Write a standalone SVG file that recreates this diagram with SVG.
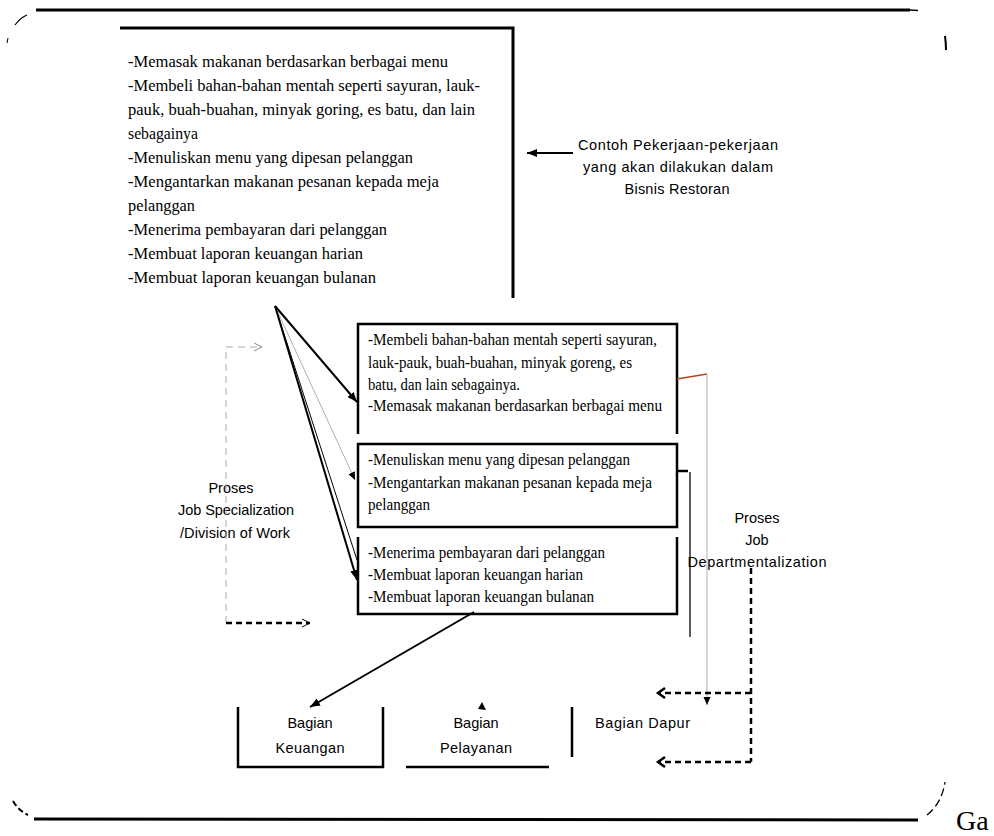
<svg xmlns="http://www.w3.org/2000/svg" width="994" height="836" viewBox="0 0 994 836">
  <style>
    .serif { font-family: "Liberation Serif", "Times New Roman", serif; font-size: 16.5px; fill: #000; }
    .serif-s { font-family: "Liberation Serif", "Times New Roman", serif; font-size: 16px; fill: #000; }
    .sans { font-family: "Liberation Sans", Arial, sans-serif; font-size: 14.5px; fill: #000; }
    .frame { fill: none; stroke: #000; stroke-width: 3; }
    .box { fill: none; stroke: #000; stroke-width: 2.5; }
    .thick { fill: none; stroke: #000; stroke-width: 2; }
    .thin { fill: none; stroke: #000; stroke-width: 1; }
    .hair { fill: none; stroke: #9a9a9a; stroke-width: 0.8; }
    .dash-black { fill: none; stroke: #000; stroke-width: 2.5; stroke-dasharray: 6 4; }
    .dash-gray { fill: none; stroke: #aaa; stroke-width: 1; stroke-dasharray: 7 5; }
  </style>
  <defs>
    <marker id="tri" markerUnits="userSpaceOnUse" markerWidth="12" markerHeight="10" refX="10" refY="4" orient="auto-start-reverse">
      <path d="M0,0 L10,4 L0,8 z" fill="#000"/>
    </marker>
    <marker id="triSmall" markerUnits="userSpaceOnUse" markerWidth="10" markerHeight="8" refX="8" refY="3.5" orient="auto">
      <path d="M0,0 L8,3.5 L0,7 z" fill="#000"/>
    </marker>
    <marker id="chevBold" markerUnits="userSpaceOnUse" markerWidth="12" markerHeight="14" refX="9" refY="6" orient="auto">
      <path d="M2,1 L9,6 L2,11" fill="none" stroke="#000" stroke-width="2.5"/>
    </marker>
    <marker id="chevThin" markerUnits="userSpaceOnUse" markerWidth="12" markerHeight="12" refX="9" refY="5" orient="auto">
      <path d="M1,1 L9,5 L1,9" fill="none" stroke="#000" stroke-width="1"/>
    </marker>
    <marker id="chevGray" markerUnits="userSpaceOnUse" markerWidth="12" markerHeight="12" refX="9" refY="5" orient="auto">
      <path d="M1,1 L9,5 L1,9" fill="none" stroke="#888" stroke-width="1"/>
    </marker>
  </defs>

  <rect width="994" height="836" fill="#fff"/>

  <!-- outer rounded frame, only partially drawn at the corners -->
  <g id="frame">
    <line class="frame" x1="36" y1="10" x2="910" y2="10"/>
    <path d="M910,10 L918,10.5" stroke="#000" stroke-width="1.5"/>
    <path d="M15,25 Q20,18 27,15" fill="none" stroke="#000" stroke-width="1.2"/>
    <path d="M8,38 L7,43" fill="none" stroke="#000" stroke-width="1"/>
    <path d="M945,36 Q946,43 946,50" fill="none" stroke="#000" stroke-width="2"/>
    <line class="frame" x1="34" y1="819" x2="918" y2="820"/>
    <path d="M13,801 Q18,810 28,815" fill="none" stroke="#000" stroke-width="2" stroke-dasharray="6 3"/>
    <path d="M927,815 Q942,803 945,782" fill="none" stroke="#000" stroke-width="1.3" stroke-dasharray="8 4"/>
    <text x="956" y="830" font-family="'Liberation Serif', 'Times New Roman', serif" font-size="28">Ga</text>
  </g>

  <!-- list of all restaurant jobs -->
  <g id="jobs-list">
    <path class="frame" d="M120,28 H513 V298"/>
    <g class="serif" lengthAdjust="spacingAndGlyphs">
      <text x="128" y="67" textLength="320" lengthAdjust="spacingAndGlyphs">-Memasak makanan berdasarkan berbagai menu</text>
      <text x="128" y="91" textLength="352" lengthAdjust="spacingAndGlyphs">-Membeli bahan-bahan mentah seperti sayuran, lauk-</text>
      <text x="128" y="115" textLength="347" lengthAdjust="spacingAndGlyphs">pauk, buah-buahan, minyak goring, es batu, dan lain</text>
      <text x="128" y="139" textLength="70" lengthAdjust="spacingAndGlyphs">sebagainya</text>
      <text x="128" y="163" textLength="285" lengthAdjust="spacingAndGlyphs">-Menuliskan menu yang dipesan pelanggan</text>
      <text x="128" y="187" textLength="311" lengthAdjust="spacingAndGlyphs">-Mengantarkan makanan pesanan kepada meja</text>
      <text x="128" y="211" textLength="67" lengthAdjust="spacingAndGlyphs">pelanggan</text>
      <text x="128" y="235" textLength="259" lengthAdjust="spacingAndGlyphs">-Menerima pembayaran dari pelanggan</text>
      <text x="128" y="259" textLength="235" lengthAdjust="spacingAndGlyphs">-Membuat laporan keuangan harian</text>
      <text x="128" y="283" textLength="248" lengthAdjust="spacingAndGlyphs">-Membuat laporan keuangan bulanan</text>
    </g>
  </g>

  <!-- caption for the list -->
  <g id="caption">
    <text class="sans" x="678" y="150" text-anchor="middle" textLength="200">Contoh Pekerjaan-pekerjaan</text>
    <text class="sans" x="678" y="172" text-anchor="middle" textLength="190">yang akan dilakukan dalam</text>
    <text class="sans" x="677" y="194" text-anchor="middle" textLength="105">Bisnis Restoran</text>
  </g>

  <!-- kitchen tasks -->
  <g id="box-kitchen">
    <path class="box" d="M358,434 V324 H677 V434"/>
    <g class="serif-s">
      <text x="368" y="345" textLength="289" lengthAdjust="spacingAndGlyphs">-Membeli bahan-bahan mentah seperti sayuran,</text>
      <text x="368" y="368" textLength="264" lengthAdjust="spacingAndGlyphs">lauk-pauk, buah-buahan, minyak goreng, es</text>
      <text x="368" y="390" textLength="152" lengthAdjust="spacingAndGlyphs">batu, dan lain sebagainya.</text>
      <text x="368" y="411" textLength="294" lengthAdjust="spacingAndGlyphs">-Memasak makanan berdasarkan berbagai menu</text>
    </g>
  </g>

  <!-- service tasks -->
  <g id="box-service">
    <rect class="box" x="358" y="444" width="319" height="83"/>
    <g class="serif-s">
      <text x="368" y="465" textLength="262" lengthAdjust="spacingAndGlyphs">-Menuliskan menu yang dipesan pelanggan</text>
      <text x="368" y="488" textLength="284" lengthAdjust="spacingAndGlyphs">-Mengantarkan makanan pesanan kepada meja</text>
      <text x="368" y="510" textLength="62" lengthAdjust="spacingAndGlyphs">pelanggan</text>
    </g>
  </g>

  <!-- finance tasks -->
  <g id="box-finance">
    <path class="box" d="M358,537 V614 H677 V537"/>
    <g class="serif-s">
      <text x="368" y="558" textLength="237" lengthAdjust="spacingAndGlyphs">-Menerima pembayaran dari pelanggan</text>
      <text x="368" y="580" textLength="215" lengthAdjust="spacingAndGlyphs">-Membuat laporan keuangan harian</text>
      <text x="368" y="602" textLength="226" lengthAdjust="spacingAndGlyphs">-Membuat laporan keuangan bulanan</text>
    </g>
  </g>

  <!-- process labels -->
  <g id="label-specialization">
    <text class="sans" x="231" y="493" text-anchor="middle">Proses</text>
    <text class="sans" x="236" y="515" text-anchor="middle" textLength="116">Job Specialization</text>
    <text class="sans" x="235" y="538" text-anchor="middle" textLength="110">/Division of Work</text>
  </g>
  <g id="label-departmentalization">
    <text class="sans" x="757" y="523" text-anchor="middle">Proses</text>
    <text class="sans" x="757" y="545" text-anchor="middle">Job</text>
    <text class="sans" x="757" y="567" text-anchor="middle" textLength="139">Departmentalization</text>
  </g>

  <!-- departments -->
  <g id="dept-keuangan">
    <path class="box" d="M238,707 V767 H383 V707"/>
    <text class="sans" x="310" y="728" text-anchor="middle" font-size="15">Bagian</text>
    <text class="sans" x="310" y="753" text-anchor="middle" font-size="15" textLength="69">Keuangan</text>
  </g>
  <g id="dept-pelayanan">
    <line class="box" x1="406" y1="767" x2="549" y2="767"/>
    <text class="sans" x="476" y="728" text-anchor="middle" font-size="15">Bagian</text>
    <text class="sans" x="476" y="753" text-anchor="middle" font-size="15" textLength="72">Pelayanan</text>
  </g>
  <g id="dept-dapur">
    <line class="box" x1="572" y1="707" x2="572" y2="757"/>
    <text class="sans" x="595" y="728" font-size="15" textLength="95">Bagian Dapur</text>
  </g>

  <!-- connectors -->
  <g id="connectors">
    <line class="thick" x1="527" y1="153" x2="573" y2="153" marker-start="url(#tri)"/>

    <!-- fan from the list to the three task boxes -->
    <line class="thick" x1="275" y1="306" x2="357" y2="402" marker-end="url(#tri)"/>
    <line class="hair" x1="275" y1="306" x2="355" y2="480" marker-end="url(#triSmall)"/>
    <line class="thin" x1="275" y1="306" x2="357" y2="560"/>
    <line class="thick" x1="275" y1="306" x2="357" y2="580" marker-end="url(#tri)"/>

    <!-- job specialization bracket -->
    <path class="dash-gray" d="M226,623 V347 H262" marker-end="url(#chevGray)"/>
    <line class="dash-black" x1="226" y1="623" x2="310" y2="623" marker-end="url(#chevThin)"/>

    <!-- finance box to finance department -->
    <line class="thick" x1="474" y1="612" x2="310" y2="707" marker-end="url(#tri)"/>

    <!-- small arrowhead above Bagian Pelayanan -->
    <path d="M482,702 L486,710 L478,709 z" fill="#000"/>

    <!-- kitchen box to kitchen department -->
    <path d="M677,379 L707,374" fill="none" stroke="#b5441c" stroke-width="1.5"/>
    <line x1="707" y1="374" x2="707" y2="705" stroke="#b0b0b0" stroke-width="1" marker-end="url(#triSmall)"/>

    <!-- service box bracket -->
    <line x1="677" y1="471" x2="688" y2="471" stroke="#000" stroke-width="2.5"/>
    <line x1="690" y1="472" x2="690" y2="637" stroke="#000" stroke-width="1.3"/>

    <!-- departmentalization dashed arrows -->
    <line class="dash-black" x1="751" y1="568" x2="751" y2="762"/>
    <line class="dash-black" x1="751" y1="693" x2="658" y2="693" marker-end="url(#chevBold)"/>
    <line class="dash-black" x1="751" y1="762" x2="658" y2="762" marker-end="url(#chevBold)"/>
  </g>
</svg>
